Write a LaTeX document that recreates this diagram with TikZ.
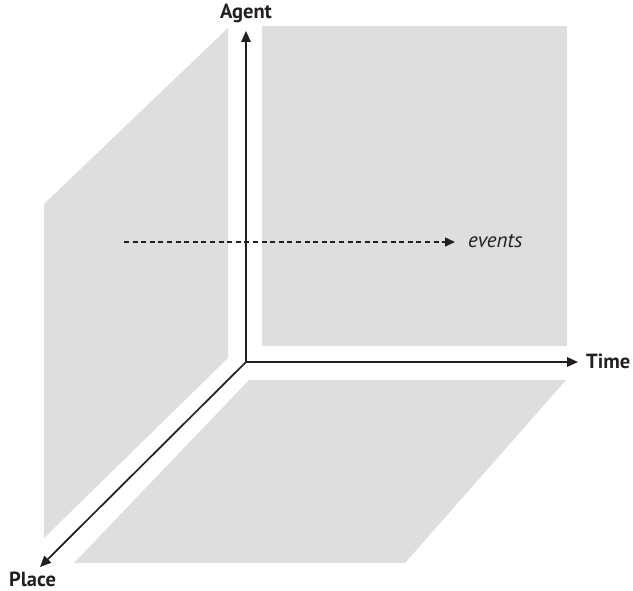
\documentclass[tikz,border=0pt]{standalone}
\usepackage{fontspec}
\setmainfont{PT Sans}
\usetikzlibrary{arrows.meta,positioning}
\definecolor{panelgray}{HTML}{DEDEDD}
\definecolor{inkblack}{HTML}{231F20}

\begin{document}
\begin{tikzpicture}[x=1pt,y=-1pt,
    panel/.style={fill=panelgray, draw=none},
    axis/.style={draw=inkblack, line width=1.7pt, -{Triangle[length=11pt,width=9.5pt]}},
    flow/.style={draw=inkblack, line width=1.4pt, dash pattern=on 5pt off 3.6pt, -{Triangle[length=10pt,width=9pt]}},
    axislabel/.style={font=\fontsize{20.5}{24}\selectfont\bfseries, text=inkblack, inner sep=0pt},
    evlabel/.style={font=\fontsize{21}{24}\selectfont\itshape, text=inkblack, inner sep=0pt}]
    \useasboundingbox (0,0) rectangle (633,591);

    % the three grey planes
    \fill[panel] (228,28) -- (44,204) -- (44,538) -- (228,358) -- cycle;
    \fill[panel] (262,26) rectangle (567,346);
    \fill[panel] (249,380) -- (566,380) -- (405,563) -- (74,563) -- cycle;

    % axes
    \coordinate (origin) at (246,362);
    \coordinate (agenttip) at (246,31);
    \coordinate (timetip) at (578,362);
    \coordinate (placetip) at (40,567);
    \node[axislabel, anchor=base] (agent) at (246,19) {Agent};
    \node[axislabel, anchor=base west] (time) at (586,368) {Time};
    \node[axislabel, anchor=base west] (place) at (9,586) {Place};
    \draw[axis] (origin) -- (agenttip);
    \draw[axis] (origin) -- (timetip);
    \draw[axis] (origin) -- (placetip);

    % events
    \coordinate (evstart) at (124,242);
    \coordinate (evtip) at (455,242);
    \node[evlabel, anchor=base west] (events) at (468,248) {events};
    \draw[flow] (evstart) -- (evtip);
\end{tikzpicture}
\end{document}
